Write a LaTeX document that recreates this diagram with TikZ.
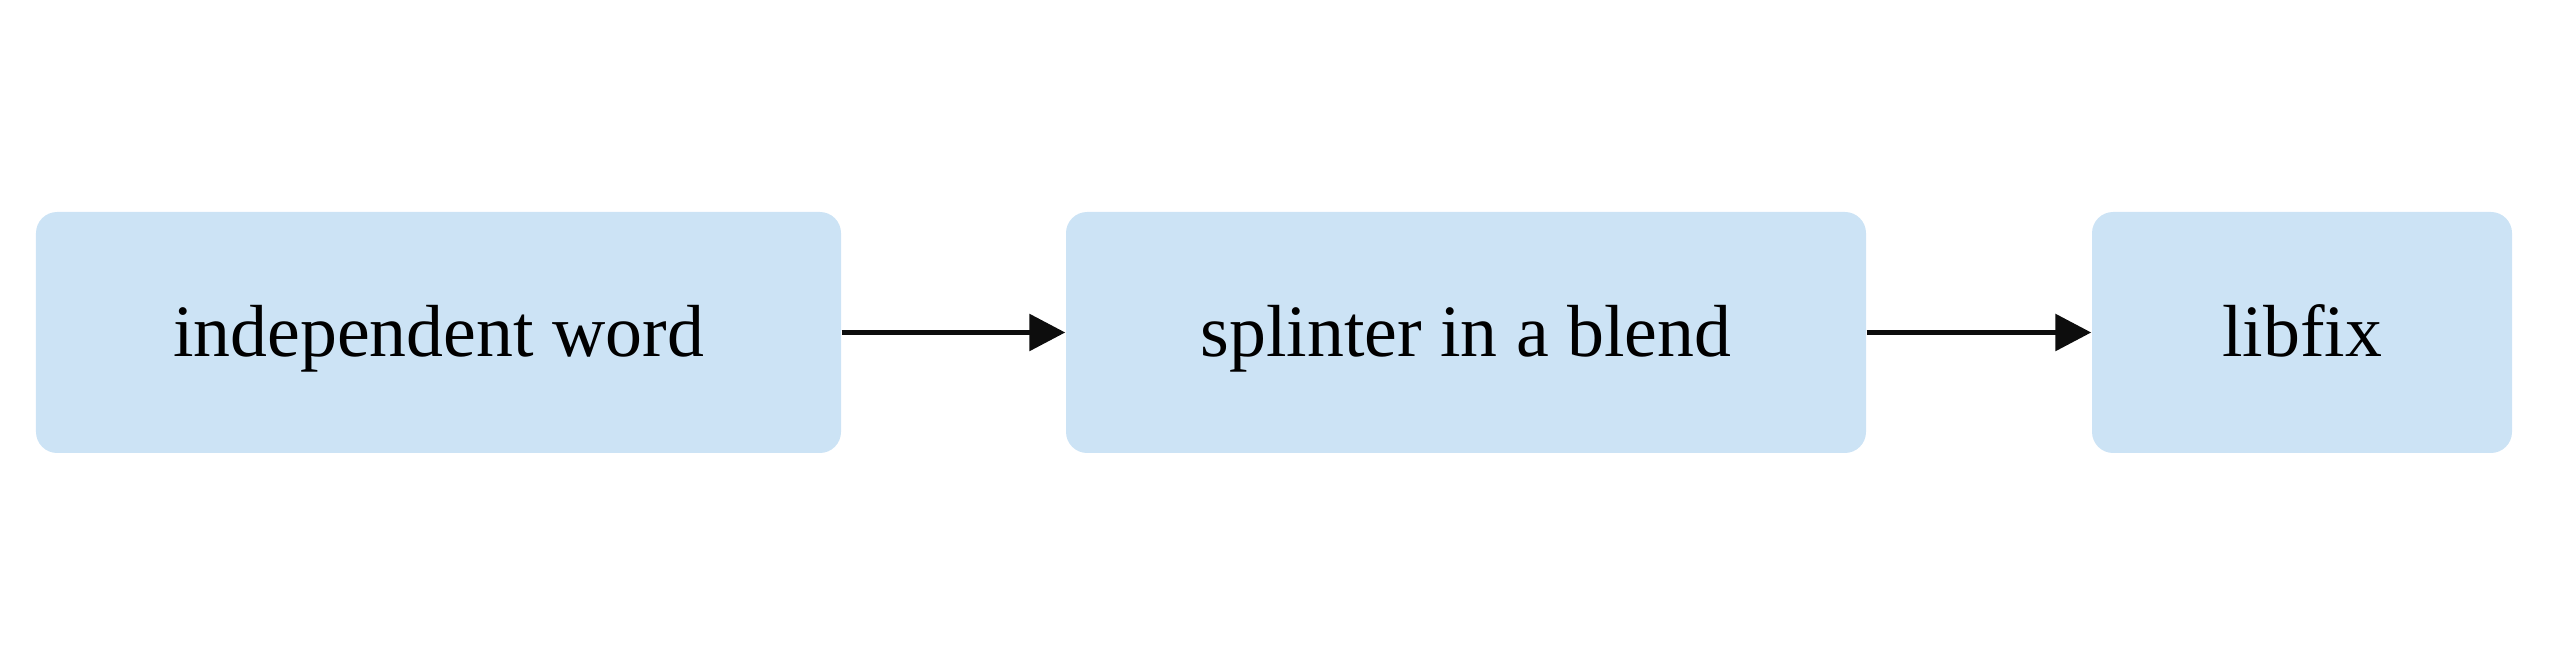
\documentclass[tikz,border=0pt]{standalone}
\usepackage{fontspec}
\setmainfont{Liberation Serif}
\usetikzlibrary{arrows.meta}
\definecolor{boxblue}{HTML}{CCE3F5}
\tikzset{
	stage/.style={fill=boxblue,rounded corners=6pt,minimum height=2.41cm,inner sep=0pt,text height=0.62cm,text depth=0.14cm,font=\fontsize{21}{25}\selectfont},
	link/.style={-{Triangle[length=0.36cm,width=0.36cm]},line width=1.7pt,draw=black!95}
}
\begin{document}
\begin{tikzpicture}
			\useasboundingbox (0,0) rectangle (25.49,6.67);
			\node[stage,minimum width=8.05cm] (word) at (4.385,3.345) {independent word};
			\node[stage,minimum width=8.00cm] (splinter) at (14.66,3.345) {splinter in a blend};
			\node[stage,minimum width=4.20cm] (libfix) at (23.02,3.345) {libfix};
			\draw[link] (word) -- (splinter);
			\draw[link] (splinter) -- (libfix);
		\end{tikzpicture}
\end{document}
